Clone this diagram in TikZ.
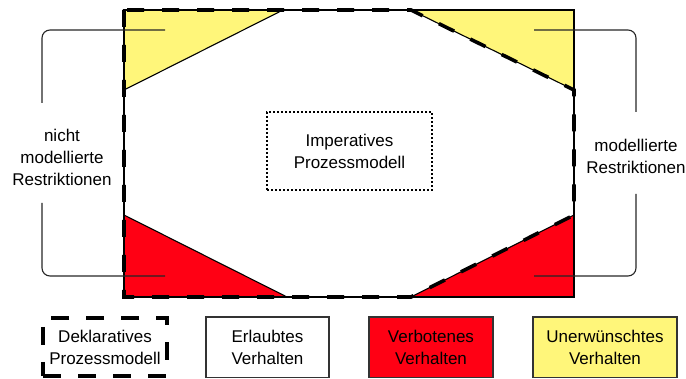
\documentclass[tikz,border=0pt]{standalone}
\usepackage{fontspec}
\setmainfont{Liberation Sans}
\definecolor{verboten}{RGB}{255,0,20}
\definecolor{unerwuenscht}{RGB}{255,246,122}
\begin{document}
\begin{tikzpicture}[x=1pt,y=-1pt,
  thinline/.style={line width=1.1pt,draw=black},
  declline/.style={line width=3.6pt,dash pattern=on 17pt off 18pt},
  bracket/.style={line width=1.1pt,draw=black!85,rounded corners=8pt},
  txt/.style={align=center,font=\fontsize{17}{22}\selectfont,inner sep=0pt},
  legendbox/.style={txt,draw=black!80,line width=1.1pt,minimum height=60.5pt}
]
\useasboundingbox (0,0) rectangle (686,379);

% corner points of the behaviour space
\coordinate (A) at (124,10);
\coordinate (B) at (283,10);
\coordinate (C) at (411,10);
\coordinate (D) at (574,10);
\coordinate (E) at (574,90);
\coordinate (F) at (574,215);
\coordinate (G) at (574,297);
\coordinate (H) at (411,297);
\coordinate (I) at (287,297);
\coordinate (J) at (124,297);
\coordinate (K) at (124,215);
\coordinate (L) at (124,90);

% undesired and forbidden regions
\filldraw[thinline,fill=unerwuenscht] (A) -- (B) -- (L) -- cycle;
\filldraw[thinline,fill=unerwuenscht] (C) -- (D) -- (E) -- cycle;
\filldraw[thinline,fill=verboten] (K) -- (J) -- (I) -- cycle;
\filldraw[thinline,fill=verboten] (H) -- (G) -- (F) -- cycle;
\draw[thinline] (A) rectangle (G);

% declarative process model boundary
\draw[declline] (A) -- (J) -- (H) -- (F) -- (E) -- (C) -- cycle;

% imperative process model
\node[txt,draw,line width=1.1pt,dash pattern=on 2pt off 2pt,
      minimum width=165pt,minimum height=78pt] (imp) at (349.5,151)
      {Imperatives\\Prozessmodell};

% side labels
\node[txt] (lblL) at (62,157) {nicht\\modellierte\\Restriktionen};
\node[txt] (lblR) at (636,156) {modellierte\\Restriktionen};

% bracket ends
\coordinate (lt0) at (42,103);
\coordinate (lt1) at (165,30);
\coordinate (lb0) at (42,203);
\coordinate (lb1) at (165,276);
\coordinate (rt0) at (636,112);
\coordinate (rt1) at (534,30);
\coordinate (rb0) at (636,194);
\coordinate (rb1) at (534,276);
\draw[bracket] (lt0) |- (lt1);
\draw[bracket] (lb0) |- (lb1);
\draw[bracket] (rt0) |- (rt1);
\draw[bracket] (rb0) |- (rb1);

% legend
\node[txt,draw=black,line width=4pt,dash pattern=on 18pt off 17pt,
      minimum width=124pt,minimum height=58pt] (ldek) at (105,347)
      {Deklaratives\\Prozessmodell};
\node[legendbox,minimum width=123pt] (lerl) at (267.5,347.25)
      {Erlaubtes\\Verhalten};
\node[legendbox,fill=verboten,minimum width=124pt] (lverb) at (431,347.25)
      {Verbotenes\\Verhalten};
\node[legendbox,fill=unerwuenscht,minimum width=144pt] (lunerw) at (605,347.25)
      {Unerwünschtes\\Verhalten};
\end{tikzpicture}
\end{document}
